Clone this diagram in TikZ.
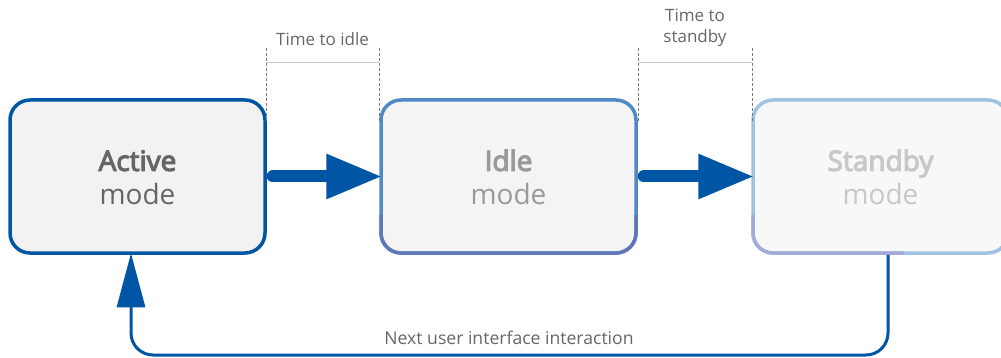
\documentclass[tikz,border=0pt]{standalone}
\usepackage{fontspec}
\setmainfont{Open Sans}
\newfontfamily\semib{Open Sans}[FakeBold=4]
\usetikzlibrary{arrows.meta}
\definecolor{dblue}{HTML}{0056A5}
\definecolor{idleA}{HTML}{4F8AC6}
\definecolor{idleB}{HTML}{6276BA}
\definecolor{stbA}{HTML}{9DC3E1}
\definecolor{stbB}{HTML}{A3A9D8}
\definecolor{txtA}{HTML}{666666}
\definecolor{txtI}{HTML}{9A9A9A}
\definecolor{txtS}{HTML}{C8C8C8}
\definecolor{guide}{HTML}{C8C8C8}
\definecolor{dashc}{HTML}{7A7A7A}
\newcommand{\topstrut}{\rule{0pt}{23pt}}
\begin{document}
\begin{tikzpicture}[x=1pt,y=-1pt,
  modebox/.style={rounded corners=20pt, line width=3.5pt, minimum width=255pt,
    minimum height=153pt, inner sep=0pt, align=center,
    font=\fontsize{28}{34}\selectfont},
  smalltxt/.style={font=\fontsize{17}{21}\selectfont, text=txtA, align=center, inner sep=0pt},
  bigarrow/.style={dblue, line width=12pt, line cap=round,
    -{Triangle[length=56pt,width=42pt]}},
  looparrow/.style={dblue, line width=3pt, rounded corners=22pt,
    -{Triangle[length=54pt,width=28pt]}},
  dashguide/.style={dashc, line width=0.8pt, dash pattern=on 3pt off 2pt},
  spanline/.style={guide, line width=1pt}
]
\useasboundingbox (0,0) rectangle (1001,358);

% boxes
\node[modebox, draw=dblue, fill={rgb,255:red,242;green,242;blue,242}, text=txtA]
  (active) at (137.5,176.5) {\topstrut{\semib Active}\\mode};
\node[modebox, draw=idleA, fill={rgb,255:red,244;green,244;blue,244}, text=txtI]
  (idle) at (508.5,176.5) {\topstrut{\semib Idle}\\mode};
\node[modebox, draw=stbA, fill={rgb,255:red,248;green,248;blue,248}, text=txtS]
  (standby) at (880.5,176.5) {\topstrut{\semib Standby}\\mode};

% lower border tints
\begin{scope}
  \clip (370,215.5) rectangle (650,262);
  \node[modebox, draw=idleB] at (508.5,176.5) {\phantom{Idle}\\\phantom{mode}};
\end{scope}
\begin{scope}
  \clip (740,215.5) rectangle (904,262);
  \node[modebox, draw=stbB] at (880.5,176.5) {\phantom{Standby}\\\phantom{mode}};
\end{scope}

% big arrows
\draw[bigarrow] ([xshift=6pt]active.east) -- ([xshift=3pt]idle.west);
\draw[bigarrow] ([xshift=6pt]idle.east) -- ([xshift=3pt]standby.west);

% timing guides
\coordinate (g1t) at (266,48);
\coordinate (g1b) at (266,121);
\coordinate (g2t) at (379,48);
\coordinate (g2b) at (379,121);
\coordinate (g3t) at (638,48);
\coordinate (g3b) at (638,121);
\coordinate (g4t) at (752,48);
\coordinate (g4b) at (752,121);
\draw[dashguide] (g1t) -- (g1b);
\draw[dashguide] (g2t) -- (g2b);
\draw[dashguide] (g3t) -- (g3b);
\draw[dashguide] (g4t) -- (g4b);
\draw[spanline] (266,63) -- (379,63);
\draw[spanline] (638,63) -- (752,63);
\node[smalltxt, anchor=base] (tidle) at (322.5,46) {Time to idle};
\node[smalltxt, anchor=north] (tstby) at (695,9) {Time to\\standby};

% feedback loop
\coordinate (lr) at (888,355);
\coordinate (ll) at (131,355);
\draw[looparrow] (standby.south -| lr) -- (lr) -- (ll) -- ([yshift=1.5pt]active.south -| ll);
\node[smalltxt, anchor=base, font=\fontsize{17.6}{21}\selectfont] (nexttxt) at (509,344) {Next user interface interaction};
\end{tikzpicture}
\end{document}
